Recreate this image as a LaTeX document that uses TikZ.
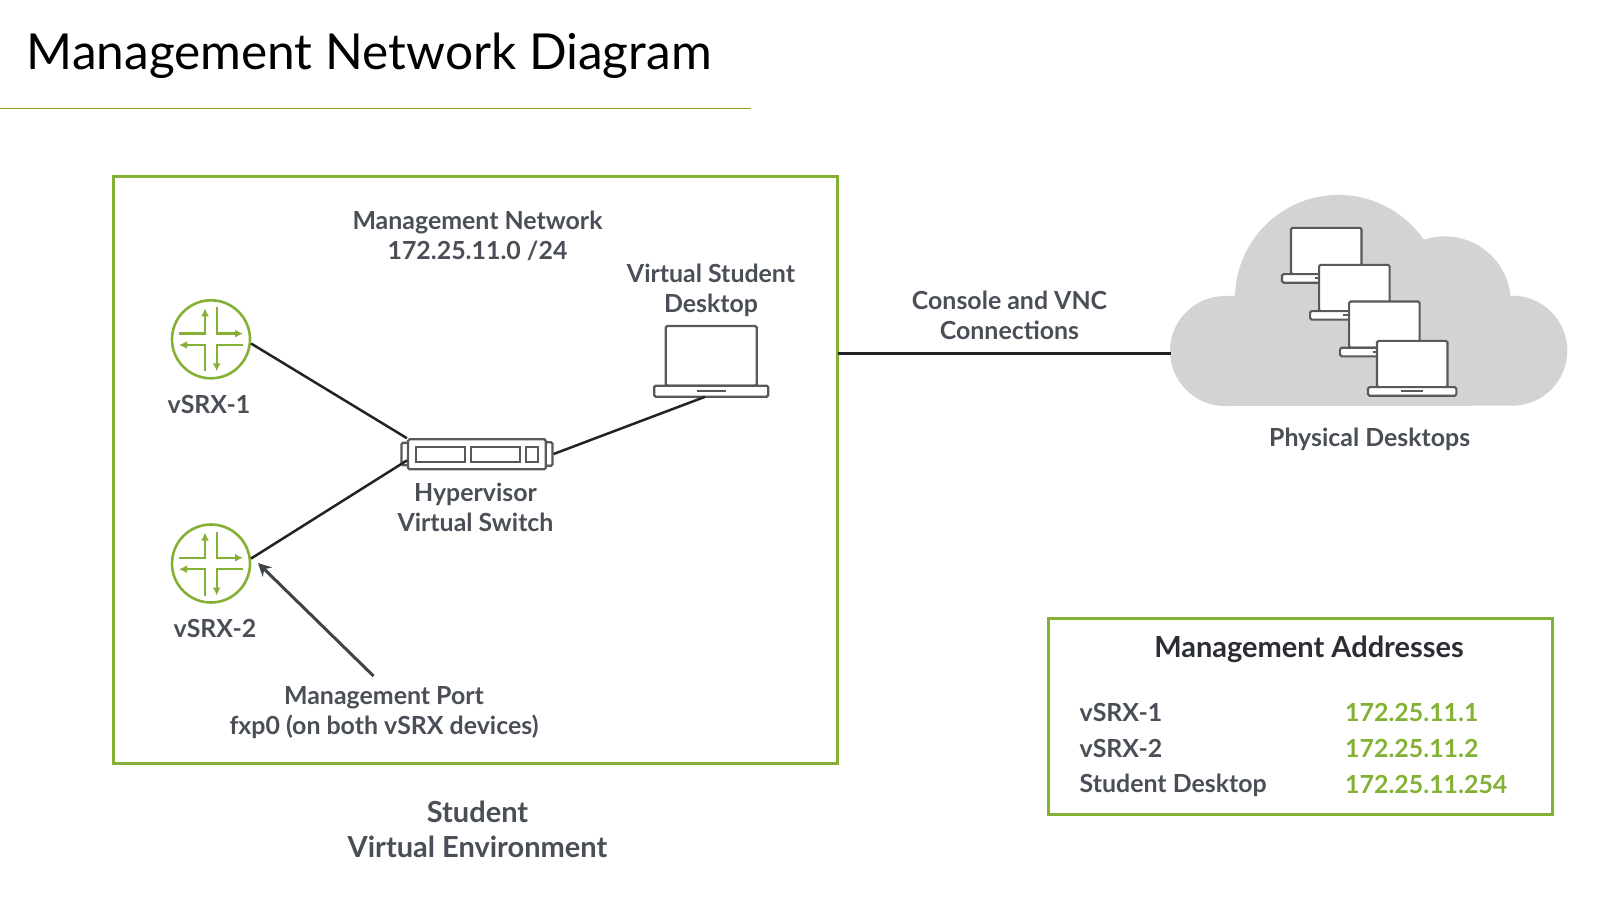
\documentclass[tikz,border=0pt]{standalone}
\usepackage{fontspec}
\setmainfont{Lato}
\newfontfamily\lblfont{Lato}
\usetikzlibrary{arrows.meta}
\definecolor{jgreen}{HTML}{84B135}
\definecolor{jolive}{HTML}{8EA33B}
\definecolor{jtext}{HTML}{4A4F57}
\definecolor{jhead}{HTML}{2A2D33}
\definecolor{jline}{HTML}{222326}
\definecolor{jicon}{HTML}{58595B}
\definecolor{jcloud}{HTML}{D1D3D4}
\tikzset{
  lbl/.style={inner sep=0pt, align=center, text=jtext, font=\lblfont\bfseries\fontsize{24.9}{29.9}\selectfont},
  bigl/.style={lbl, font=\lblfont\bfseries\fontsize{29}{35}\selectfont},
  addr/.style={lbl, anchor=west, align=left},
  ip/.style={addr, text=jgreen},
  gbox/.style={draw=jgreen, line width=3pt, inner sep=0pt, outer sep=0pt},
  link/.style={draw=jline, line width=2.5pt},
  router/.style={circle, draw=jgreen, line width=2.6pt, inner sep=0pt, minimum size=78pt},
  sw/.style={draw=jicon, line width=2.2pt, rounded corners=1.5pt, fill=white, inner sep=0pt},
  pics/routerarrows/.style={code={
    \draw [jgreen, line width=2.4pt, -{Latex[length=8pt,width=8pt]}] (-31.7,-5.7) -- (-6,-5.7) -- (-6,-31);
    \draw [jgreen, line width=2.4pt, -{Latex[length=8pt,width=8pt]}] (5.7,-32) -- (5.7,-5.7) -- (32,-5.7);
    \draw [jgreen, line width=2.4pt, -{Latex[length=8pt,width=8pt]}] (32,5.7) -- (5.7,5.7) -- (5.7,32);
    \draw [jgreen, line width=2.4pt, -{Latex[length=8pt,width=8pt]}] (-6,32) -- (-6,5.7) -- (-32,5.7);
  }},
  pics/laptop/.style={code={
    \draw [jicon, fill=white, rounded corners=1.5pt] (-45.5,-11) rectangle (45.5,-70.7);
    \draw [jicon, fill=white, rounded corners=1.5pt] (-57,-11) rectangle (57,0);
    \draw [jicon] (-14.5,-5.5) -- (14.5,-5.5);
  }},
}
\begin{document}
\begin{tikzpicture}[x=1pt, y=-1pt]
\useasboundingbox (0,0) rectangle (1612,916);
% title
\node [anchor=base west, inner sep=0pt, text=black, font=\fontsize{49.6}{58}\selectfont] (title) at (26.5,69) {Management Network Diagram};
\coordinate (ruleL) at (0,108.5);
\coordinate (ruleR) at (751,108.5);
\draw [jolive, line width=1.2pt] (ruleL) -- (ruleR);
%%%%%%%%%
% cloud and the physical desktops
\fill [jcloud] (1225,406) arc (90:270:55) -- (1235,295.7) arc (181.5:325.5:103.5) arc (251.4:354.7:66) -- (1512.3,295.7) arc (270:450:55) -- cycle;
\pic [scale=.775, line width=2.1pt] at (1326.2,282.7) {laptop};
\pic [scale=.775, line width=2.1pt] at (1354.3,319.6) {laptop};
\pic [scale=.775, line width=2.1pt] at (1384.3,356.3) {laptop};
\pic [scale=.775, line width=2.1pt] at (1412.2,395.7) {laptop};
\node [lbl] (phys) at (1369.6,439) {Physical Desktops};
%%%%%%%%%
% student environment
\node [gbox, minimum width=724.5pt, minimum height=587pt] (envbox) at (475.3,469.7) {};
\node [lbl] (mgmtnet) at (477.5,236) {Management Network\\172.25.11.0 /24};
\node [lbl] (vdesk) at (711,290) {Virtual Student\\Desktop};
\node [router] (R1) at (211,339.3) {};
\node [router] (R2) at (211,563.5) {};
\pic at (211,339.3) {routerarrows};
\pic at (211,563.5) {routerarrows};
\node [lbl] (R1lbl) at (209,404.5) {vSRX-1};
\node [lbl] (R2lbl) at (215,628.5) {vSRX-2};
\node [sw, minimum width=7pt, minimum height=22.5pt] (earL) at (405,454) {};
\node [sw, minimum width=7pt, minimum height=23.5pt] (earR) at (549,454) {};
\node [sw, minimum width=137.7pt, minimum height=30pt] (hyper) at (476.9,454.3) {};
\node [sw, minimum width=49pt, minimum height=14.4pt, rounded corners=0pt, line width=1.8pt] at (440.5,454.5) {};
\node [sw, minimum width=49pt, minimum height=14.4pt, rounded corners=0pt, line width=1.8pt] at (495.5,454.5) {};
\node [sw, minimum width=12.6pt, minimum height=14.4pt, rounded corners=0pt, line width=1.8pt] at (532,454.5) {};
\node [lbl] (hyperlbl) at (475.5,507.2) {Hypervisor\\Virtual Switch};
\node [inner sep=0pt, minimum width=114pt, minimum height=70.7pt] (desk) at (711.2,361.3) {};
\pic [line width=2.4pt] at (711.2,396.7) {laptop};
\draw [link] (R1.-6) -- (hyper.north west);
\draw [link] (R2.7) -- (hyper.185);
\draw [link] (earR.east) -- (desk.260);
\coordinate (porttail) at (373.5,676);
\coordinate (porttip) at (258,563);
\draw [jtext!85!black, line width=3pt, -{Stealth[length=13pt,width=13pt]}] (porttail) -- (porttip);
\node [lbl] (portlbl) at (384,712.7) {Management Port\\fxp0 (on both vSRX devices)};
\node [bigl] (envlbl) at (477.5,829) {Student\\Virtual Environment};
%%%%%%%%%
% connection to the cloud
\coordinate (cloudedge) at (1171,353.5);
\draw [link] (envbox.east |- cloudedge) -- (cloudedge);
\node [lbl] (conlbl) at (1009.5,315.5) {Console and VNC\\Connections};
%%%%%%%%%
% address table
\node [gbox, minimum width=503.5pt, minimum height=196.5pt] (addrbox) at (1300.3,716.7) {};
\node [bigl, text=jhead] (addrhead) at (1309,649.5) {Management Addresses};
\node [addr] (n1) at (1079.5,712) {vSRX-1};
\node [addr] (n2) at (1079.5,748) {vSRX-2};
\node [addr] (n3) at (1079.5,785) {Student Desktop};
\node [ip] (a1) at (1345,712) {172.25.11.1};
\node [ip] (a2) at (1345,748) {172.25.11.2};
\node [ip] (a3) at (1345,784) {172.25.11.254};
\end{tikzpicture}
\end{document}
